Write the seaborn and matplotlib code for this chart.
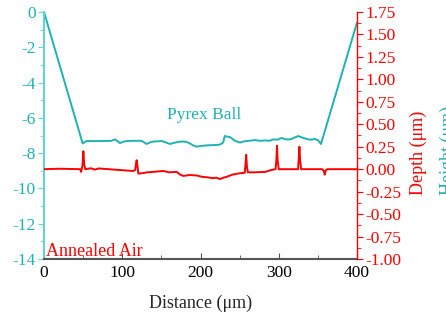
import matplotlib
matplotlib.use("Agg")
import matplotlib.pyplot as plt
import pandas as pd
import seaborn as sns
from matplotlib.ticker import FormatStrFormatter, MultipleLocator

TEAL = "#1db3b3"
TEAL_SPINE = "#66d3d3"
RED = "#ff0000"

# Pyrex Ball profile (left axis)
ball_x = [0, 49.4, 51, 54.5, 65, 80, 86, 90.7, 94, 97, 101, 105.6, 115, 124,
          127, 131, 135, 140, 146, 150, 155, 161, 166, 170, 176, 182, 187,
          190, 195, 201, 208, 213, 218.5, 222, 225, 229, 231, 234, 238, 244,
          250.5, 256, 262, 269.6, 276, 283, 288, 293, 298, 303.7, 309, 315,
          320, 325, 330, 336, 341, 346, 350, 354, 400]
ball_y = [0, -7.45, -7.40, -7.31, -7.32, -7.31, -7.30, -7.22, -7.32, -7.43,
          -7.36, -7.31, -7.30, -7.30, -7.36, -7.48, -7.40, -7.34, -7.33,
          -7.31, -7.38, -7.48, -7.42, -7.38, -7.34, -7.36, -7.46, -7.55,
          -7.63, -7.59, -7.56, -7.55, -7.54, -7.53, -7.51, -7.40, -7.03,
          -7.06, -7.10, -7.30, -7.40, -7.33, -7.30, -7.26, -7.30, -7.28,
          -7.30, -7.22, -7.24, -7.14, -7.22, -7.22, -7.12, -7.03, -7.12,
          -7.20, -7.24, -7.20, -7.26, -7.48, -0.6]

# Annealed Air profile (right axis)
air_x = [0, 20, 46, 47.5, 49.3, 50.3, 51.4, 52.8, 60, 65, 70, 90, 114,
         116.5, 117.6, 118.4, 119.4, 120.6, 125, 132, 139.7, 146, 152.5, 160,
         169.5, 174, 178, 186, 195, 202, 208, 216.4, 220, 225, 229, 233.4,
         241, 250.5, 256.5, 257.6, 258.4, 259.3, 260.5, 268, 283, 290, 296,
         297.1, 297.8, 298.6, 300, 310, 324.6, 325.6, 326.4, 327.3, 328.6,
         340, 355.6, 357.6, 358.8, 360, 362, 380, 400]
air_y = [0.0, 0.005, 0.0, -0.03, 0.05, 0.20, 0.05, 0.0, 0.01, -0.005, 0.008,
         -0.005, -0.02, -0.01, 0.06, 0.10, 0.04, -0.05, -0.045, -0.035,
         -0.03, -0.025, -0.02, -0.035, -0.03, -0.06, -0.075, -0.065, -0.07,
         -0.085, -0.09, -0.10, -0.095, -0.11, -0.095, -0.085, -0.06, -0.045,
         -0.04, 0.06, 0.16, 0.03, -0.035, -0.035, -0.03, -0.01, 0.0, 0.12,
         0.26, 0.10, 0.0, 0.0, 0.0, 0.12, 0.25, 0.10, 0.0, 0.0, 0.0, -0.02,
         -0.06, -0.015, 0.0, 0.0, 0.0]

ball = pd.DataFrame({"x": ball_x, "y": ball_y})
air = pd.DataFrame({"x": air_x, "y": air_y})

sns.set_style("ticks")
plt.rcParams["font.family"] = ["Liberation Serif", "DejaVu Serif"]
plt.rcParams["font.size"] = 12.5
plt.rcParams["axes.unicode_minus"] = False

fig = plt.figure(figsize=(4.46, 3.2), dpi=100)
ax = fig.add_axes([44 / 446, 1 - 259 / 320, 313 / 446, 247 / 320])
ax2 = ax.twinx()

sns.lineplot(data=ball, x="x", y="y", ax=ax, color=TEAL, linewidth=1.4)
sns.lineplot(data=air, x="x", y="y", ax=ax2, color=RED, linewidth=1.4)

ax.set_xlim(0, 400)
ax.set_ylim(-14, 0)
ax2.set_ylim(-1.0, 1.75)

ax.xaxis.set_major_locator(MultipleLocator(100))
ax.xaxis.set_minor_locator(MultipleLocator(50))
ax.yaxis.set_major_locator(MultipleLocator(2))
ax.yaxis.set_minor_locator(MultipleLocator(1))
ax2.yaxis.set_major_locator(MultipleLocator(0.25))
ax2.yaxis.set_minor_locator(MultipleLocator(0.125))
ax2.yaxis.set_major_formatter(FormatStrFormatter("%.2f"))

for a in (ax, ax2):
    a.spines["top"].set_visible(False)
ax.spines["right"].set_visible(False)
ax2.spines["left"].set_visible(False)
ax2.spines["bottom"].set_visible(False)

ax.spines["left"].set_color(TEAL_SPINE)
ax.spines["left"].set_linewidth(1.5)
ax.spines["bottom"].set_color("#555555")
ax.spines["bottom"].set_linewidth(1.5)
ax2.spines["right"].set_color(RED)
ax2.spines["right"].set_linewidth(1.0)

ax.tick_params(axis="x", which="both", direction="in", colors="#555555",
               labelcolor="black", pad=4)
ax.tick_params(axis="x", which="major", length=4)
ax.tick_params(axis="x", which="minor", length=3)
ax.tick_params(axis="y", which="both", colors=TEAL_SPINE, labelcolor=TEAL, pad=2)
ax.tick_params(axis="y", which="major", length=4)
ax.tick_params(axis="y", which="minor", length=3)
ax2.tick_params(axis="y", which="both", colors=RED, labelcolor=RED, pad=2)
ax2.tick_params(axis="y", which="major", length=4)
ax2.tick_params(axis="y", which="minor", length=3)

ax.set_xlabel("Distance (μm)", fontsize=13, labelpad=10)
ax.set_ylabel("")
ax2.set_ylabel("")

fig.text(418 / 446, 1 - 153 / 320, "Depth (μm)", color=RED, rotation=90,
         ha="center", va="center", fontsize=13)
fig.text(448 / 446, 1 - 150 / 320, "Height (μm)", color=TEAL, rotation=90,
         ha="center", va="center", fontsize=13)

ax.text(205, -5.85, "Pyrex Ball", color=TEAL, ha="center", va="center",
        fontsize=12.5)
ax.text(3, -13.55, "Annealed Air", color=RED, ha="left", va="center",
        fontsize=13)

fig.savefig("out.png", dpi=100)
